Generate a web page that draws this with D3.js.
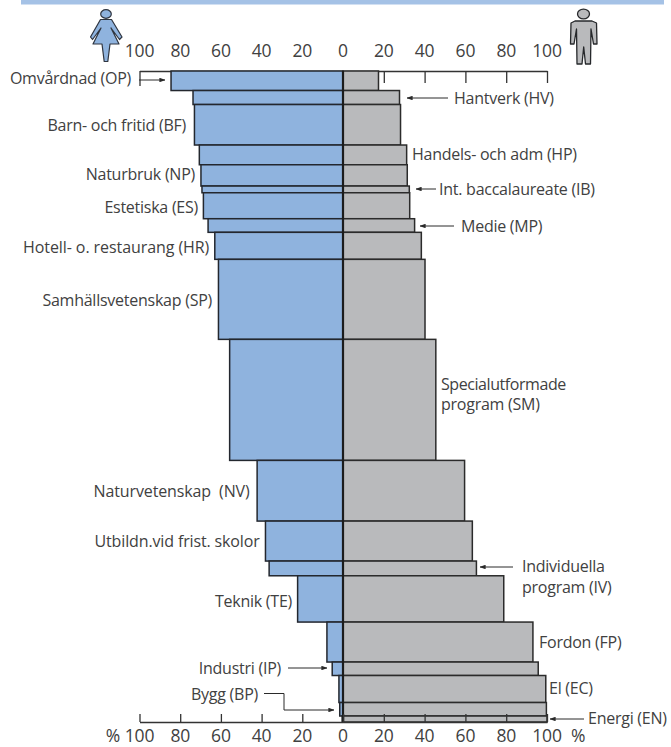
<!DOCTYPE html>
<html><head><meta charset="utf-8">
<script src="https://cdn.jsdelivr.net/npm/d3@7"></script>
<style>
html,body{margin:0;padding:0;background:#fff}
svg{display:block}
text{font-family:"Open Sans",sans-serif;fill:#414141;white-space:pre}
.lab{font-size:16px;letter-spacing:-.25px}
.tick text,.num{font-size:17.5px;letter-spacing:-.2px}
</style></head><body>
<svg id="c" width="671" height="747"></svg>
<script>
const programmes=["Omvårdnad (OP)","Hantverk (HV)","Barn- och fritid (BF)","Handels- och adm (HP)","Naturbruk (NP)","Int. baccalaureate (IB)","Estetiska (ES)","Medie (MP)","Hotell- o. restaurang (HR)","Samhällsvetenskap (SP)","Specialutformade program (SM)","Naturvetenskap (NV)","Utbildn.vid frist. skolor","Individuella program (IV)","Teknik (TE)","Fordon (FP)","Industri (IP)","El (EC)","Bygg (BP)","Energi (EN)"];
const womenPct=[84.5,73.7,73,70.6,69.8,69.3,68.6,66.3,63,61.2,55.7,42.2,38.1,36.3,22.3,7.9,5.3,2,1.6,0.4];
const menPct=[17.4,27.7,28.2,31.2,31.5,32.5,32.7,35.1,38.4,40.2,45.5,59.6,63.4,65.4,78.8,93.1,95.7,99.4,99.7,100];
const sharePct=[3,2.15,6.22,3.03,3.27,1.03,3.99,2.09,4.15,12.29,18.59,9.32,6.14,2.26,7.11,6.14,2.07,4.15,2.07,0.92];
const ticks=[0,20,40,60,80,100];

const svg=d3.select("#c");
const xL=d3.scaleLinear().domain([100,0]).range([139.5,343]);
const xR=d3.scaleLinear().domain([0,100]).range([343,547]);
const total=d3.sum(sharePct);
const y=d3.scaleLinear().domain([0,total]).range([71,722]);
const cum=d3.cumsum(sharePct);
const rows=programmes.map((p,i)=>({p,w:womenPct[i],m:menPct[i],y0:i?cum[i-1]:0,y1:cum[i]}));

svg.append("rect").attr("x",21).attr("y",0).attr("width",643).attr("height",4.5).attr("fill","#a5c2e6");

const defs=svg.append("defs");
defs.append("marker").attr("id","ah").attr("viewBox","0 0 8 6").attr("refX",7.5).attr("refY",3)
  .attr("markerWidth",6).attr("markerHeight",4.5).attr("markerUnits","userSpaceOnUse").attr("orient","auto")
  .append("path").attr("d","M0,0L8,3L0,6Z").attr("fill","#2a2a2a");

function axis(gen,yy){
  const g=svg.append("g").attr("transform",`translate(0,${yy})`).call(gen);
  g.selectAll("text").remove();
  g.selectAll("line,path").attr("stroke","#333").attr("stroke-width",1.3);
  return g;
}
axis(d3.axisBottom(xL).tickValues(ticks).tickSize(15).tickSizeOuter(0),71);
axis(d3.axisBottom(xR).tickValues(ticks).tickSize(12).tickSizeOuter(0),71);

svg.append("g").selectAll("rect").data(rows).join("rect")
  .attr("x",d=>xL(d.w)).attr("width",d=>xL(0)-xL(d.w))
  .attr("y",d=>y(d.y0)).attr("height",d=>y(d.y1)-y(d.y0))
  .attr("fill","#8fb3de").attr("stroke","#23272e").attr("stroke-width",1.5);
svg.append("g").selectAll("rect").data(rows).join("rect")
  .attr("x",xR(0)).attr("width",d=>xR(d.m)-xR(0))
  .attr("y",d=>y(d.y0)).attr("height",d=>y(d.y1)-y(d.y0))
  .attr("fill","#b9babc").attr("stroke","#2b2b2b").attr("stroke-width",1.5);
svg.append("line").attr("x1",xR(0)).attr("x2",xR(0)).attr("y1",y(0)).attr("y2",y(total)).attr("stroke","#1c1c1c").attr("stroke-width",2.2);

axis(d3.axisTop(xL).tickValues(ticks).tickSize(8).tickSizeOuter(0),722);
axis(d3.axisTop(xR).tickValues(ticks).tickSize(8).tickSizeOuter(0),722);

const num=(x,yy,t,a)=>svg.append("text").attr("class","num").attr("x",x).attr("y",yy).attr("text-anchor",a||"middle").text(t);
ticks.forEach(t=>{
  if(t){num(xL(t),56.5,t);num(xR(t),56.5,t);num(xL(t),742,t);num(xR(t),742,t);}
});
num(343,56.5,0);num(343,742,0);
num(120,742,"%","end");num(571,742,"%","start");

const labels=[
 ["Omvårdnad (OP)",131,84,"end"],["Barn- och fritid (BF)",186,130.5,"end"],["Naturbruk (NP)",195,180,"end"],
 ["Estetiska (ES)",198,212.5,"end"],["Hotell- o. restaurang (HR)",209,252.5,"end",186],["Samhällsvetenskap (SP)",212,305.5,"end"],
 ["Naturvetenskap  (NV)",249.5,496.5,"end",156],["Utbildn.vid frist. skolor",259.5,546.5,"end",165],["Teknik (TE)",292,606.5,"end"],
 ["Industri (IP)",281,673.5,"end"],["Bygg (BP)",258,699.5,"end"],
 ["Hantverk (HV)",454,103.5,"start"],["Handels- och adm (HP)",412,159.5,"start"],["Int. baccalaureate (IB)",439,194.5,"start"],
 ["Medie (MP)",461,231.5,"start"],["Specialutformade",441,389.5,"start",125],["program (SM)",441,409.5,"start"],
 ["Individuella",522,571.5,"start"],["program (IV)",522,592.5,"start"],["Fordon (FP)",539,647.5,"start"],
 ["El (EC)",549,693.5,"start"],["Energi (EN)",588,723.5,"start"]];
svg.append("g").selectAll("text").data(labels).join("text").attr("class","lab")
  .attr("x",d=>d[1]).attr("y",d=>d[2]).attr("text-anchor",d=>d[3])
  .each(function(d){ if(d[4]) d3.select(this).attr("textLength",d[4]).attr("lengthAdjust","spacing"); })
  .text(d=>d[0]);

const leaders=[[[139,80],[165,80]],[[448,98],[407,98]],[[436,189],[416,189]],[[454,226],[420,226]],
 [[513,567],[480,567]],[[288,668],[327,668]],[[264,693.5],[284,693.5],[284,710],[334,710]],[[584,719],[550,719]]];
svg.append("g").selectAll("path").data(leaders).join("path")
  .attr("d",d3.line()).attr("fill","none").attr("stroke","#2a2a2a").attr("stroke-width",1).attr("marker-end","url(#ah)");

const woman=svg.append("g").attr("fill","#8fb3de").attr("stroke","#2f3540").attr("stroke-width",1.2).attr("stroke-linejoin","round");
woman.append("ellipse").attr("cx",106).attr("cy",14).attr("rx",5.3).attr("ry",4.3);
woman.append("path").attr("d","M100.5,19.5L111.5,19.5L122,37L119.5,39.5L111,28L119,44L110,44L107.8,61.5L104.2,61.5L102,44L93,44L101,28L92.5,39.5L90.5,37Z");
const man=svg.append("g").attr("fill","#b9babc").attr("stroke","#26282b").attr("stroke-width",1.3).attr("stroke-linejoin","round");
man.append("ellipse").attr("cx",583.5).attr("cy",14).attr("rx",6).attr("ry",4.8);
man.append("path").attr("d","M575,21L592,21L596.5,23L597,44L593.5,44L591,29L590.5,64L585.5,64L583.7,47L582,64L577,64L576.5,29L574,44L570.5,44L571,23Z");
</script>
</body></html>
